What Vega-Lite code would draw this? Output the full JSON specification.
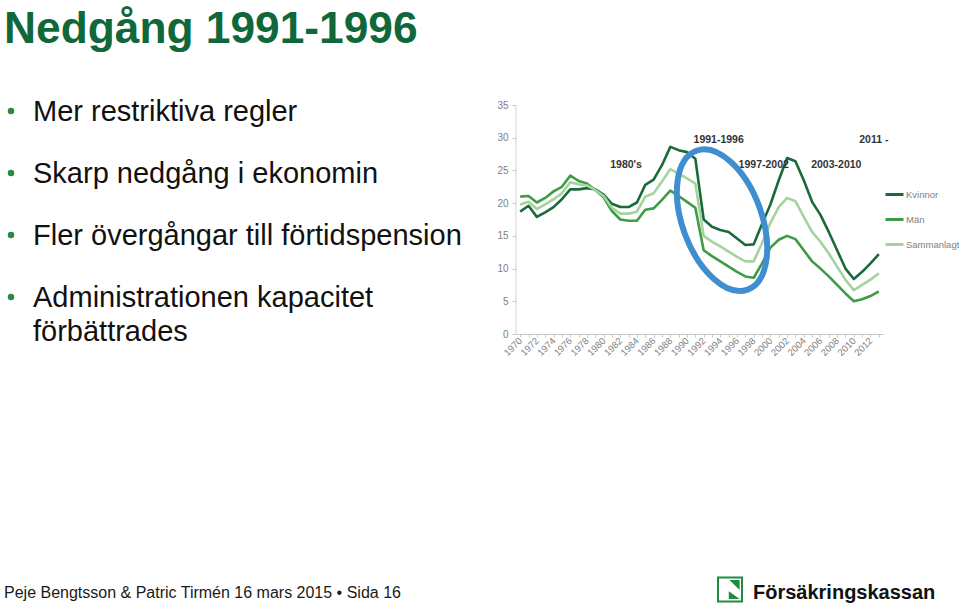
{
  "$schema": "https://vega.github.io/schema/vega-lite/v6.json",
  "background": "white",
  "padding": 0,
  "autosize": {"type": "pad"},
  "bounds": "flush",
  "spacing": 0,
  "config": {"view": {"stroke": null}, "font": "Liberation Sans", "axis": {"labelOverlap": false}, "axisX": {"labelOverlap": false}},
  "datasets": {
    "serier": [
      {"år": 1970, "serie": "Kvinnor", "värde": 18.7}, {"år": 1971, "serie": "Kvinnor", "värde": 19.6}, {"år": 1972, "serie": "Kvinnor", "värde": 17.9}, {"år": 1973, "serie": "Kvinnor", "värde": 18.6}, {"år": 1974, "serie": "Kvinnor", "värde": 19.4}, {"år": 1975, "serie": "Kvinnor", "värde": 20.6}, {"år": 1976, "serie": "Kvinnor", "värde": 22.1}, {"år": 1977, "serie": "Kvinnor", "värde": 22.1}, {"år": 1978, "serie": "Kvinnor", "värde": 22.3}, {"år": 1979, "serie": "Kvinnor", "värde": 22.1}, {"år": 1980, "serie": "Kvinnor", "värde": 21.3}, {"år": 1981, "serie": "Kvinnor", "värde": 19.9}, {"år": 1982, "serie": "Kvinnor", "värde": 19.4}, {"år": 1983, "serie": "Kvinnor", "värde": 19.4}, {"år": 1984, "serie": "Kvinnor", "värde": 20.1}, {"år": 1985, "serie": "Kvinnor", "värde": 22.8}, {"år": 1986, "serie": "Kvinnor", "värde": 23.6}, {"år": 1987, "serie": "Kvinnor", "värde": 25.8}, {"år": 1988, "serie": "Kvinnor", "värde": 28.6}, {"år": 1989, "serie": "Kvinnor", "värde": 28.1}, {"år": 1990, "serie": "Kvinnor", "värde": 27.8}, {"år": 1991, "serie": "Kvinnor", "värde": 26.8}, {"år": 1992, "serie": "Kvinnor", "värde": 17.5}, {"år": 1993, "serie": "Kvinnor", "värde": 16.4}, {"år": 1994, "serie": "Kvinnor", "värde": 15.9}, {"år": 1995, "serie": "Kvinnor", "värde": 15.6}, {"år": 1996, "serie": "Kvinnor", "värde": 14.6}, {"år": 1997, "serie": "Kvinnor", "värde": 13.6}, {"år": 1998, "serie": "Kvinnor", "värde": 13.7}, {"år": 1999, "serie": "Kvinnor", "värde": 16.8}, {"år": 2000, "serie": "Kvinnor", "värde": 19.8}, {"år": 2001, "serie": "Kvinnor", "värde": 23.5}, {"år": 2002, "serie": "Kvinnor", "värde": 26.9}, {"år": 2003, "serie": "Kvinnor", "värde": 26.4}, {"år": 2004, "serie": "Kvinnor", "värde": 23.5}, {"år": 2005, "serie": "Kvinnor", "värde": 20.2}, {"år": 2006, "serie": "Kvinnor", "värde": 18.2}, {"år": 2007, "serie": "Kvinnor", "värde": 15.6}, {"år": 2008, "serie": "Kvinnor", "värde": 12.8}, {"år": 2009, "serie": "Kvinnor", "värde": 10.0}, {"år": 2010, "serie": "Kvinnor", "värde": 8.4}, {"år": 2011, "serie": "Kvinnor", "värde": 9.5}, {"år": 2012, "serie": "Kvinnor", "värde": 10.8}, {"år": 2013, "serie": "Kvinnor", "värde": 12.2},
      {"år": 1970, "serie": "Män", "värde": 21.0}, {"år": 1971, "serie": "Män", "värde": 21.1}, {"år": 1972, "serie": "Män", "värde": 20.1}, {"år": 1973, "serie": "Män", "värde": 20.8}, {"år": 1974, "serie": "Män", "värde": 21.8}, {"år": 1975, "serie": "Män", "värde": 22.5}, {"år": 1976, "serie": "Män", "värde": 24.2}, {"år": 1977, "serie": "Män", "värde": 23.4}, {"år": 1978, "serie": "Män", "värde": 23.0}, {"år": 1979, "serie": "Män", "värde": 22.0}, {"år": 1980, "serie": "Män", "värde": 20.9}, {"år": 1981, "serie": "Män", "värde": 18.8}, {"år": 1982, "serie": "Män", "värde": 17.5}, {"år": 1983, "serie": "Män", "värde": 17.3}, {"år": 1984, "serie": "Män", "värde": 17.3}, {"år": 1985, "serie": "Män", "värde": 19.0}, {"år": 1986, "serie": "Män", "värde": 19.2}, {"år": 1987, "serie": "Män", "värde": 20.5}, {"år": 1988, "serie": "Män", "värde": 21.9}, {"år": 1989, "serie": "Män", "värde": 21.1}, {"år": 1990, "serie": "Män", "värde": 20.2}, {"år": 1991, "serie": "Män", "värde": 19.3}, {"år": 1992, "serie": "Män", "värde": 12.8}, {"år": 1993, "serie": "Män", "värde": 11.9}, {"år": 1994, "serie": "Män", "värde": 11.1}, {"år": 1995, "serie": "Män", "värde": 10.3}, {"år": 1996, "serie": "Män", "värde": 9.5}, {"år": 1997, "serie": "Män", "värde": 8.8}, {"år": 1998, "serie": "Män", "värde": 8.6}, {"år": 1999, "serie": "Män", "värde": 10.8}, {"år": 2000, "serie": "Män", "värde": 13.2}, {"år": 2001, "serie": "Män", "värde": 14.4}, {"år": 2002, "serie": "Män", "värde": 15.0}, {"år": 2003, "serie": "Män", "värde": 14.5}, {"år": 2004, "serie": "Män", "värde": 12.8}, {"år": 2005, "serie": "Män", "värde": 11.1}, {"år": 2006, "serie": "Män", "värde": 10.0}, {"år": 2007, "serie": "Män", "värde": 8.8}, {"år": 2008, "serie": "Män", "värde": 7.5}, {"år": 2009, "serie": "Män", "värde": 6.2}, {"år": 2010, "serie": "Män", "värde": 5.0}, {"år": 2011, "serie": "Män", "värde": 5.3}, {"år": 2012, "serie": "Män", "värde": 5.8}, {"år": 2013, "serie": "Män", "värde": 6.5},
      {"år": 1970, "serie": "Sammanlagt", "värde": 19.8}, {"år": 1971, "serie": "Sammanlagt", "värde": 20.2}, {"år": 1972, "serie": "Sammanlagt", "värde": 19.1}, {"år": 1973, "serie": "Sammanlagt", "värde": 19.8}, {"år": 1974, "serie": "Sammanlagt", "värde": 20.6}, {"år": 1975, "serie": "Sammanlagt", "värde": 21.5}, {"år": 1976, "serie": "Sammanlagt", "värde": 23.2}, {"år": 1977, "serie": "Sammanlagt", "värde": 22.9}, {"år": 1978, "serie": "Sammanlagt", "värde": 22.7}, {"år": 1979, "serie": "Sammanlagt", "värde": 22.0}, {"år": 1980, "serie": "Sammanlagt", "värde": 21.1}, {"år": 1981, "serie": "Sammanlagt", "värde": 19.3}, {"år": 1982, "serie": "Sammanlagt", "värde": 18.4}, {"år": 1983, "serie": "Sammanlagt", "värde": 18.4}, {"år": 1984, "serie": "Sammanlagt", "värde": 18.7}, {"år": 1985, "serie": "Sammanlagt", "värde": 21.0}, {"år": 1986, "serie": "Sammanlagt", "värde": 21.5}, {"år": 1987, "serie": "Sammanlagt", "värde": 23.3}, {"år": 1988, "serie": "Sammanlagt", "värde": 25.2}, {"år": 1989, "serie": "Sammanlagt", "värde": 24.5}, {"år": 1990, "serie": "Sammanlagt", "värde": 23.8}, {"år": 1991, "serie": "Sammanlagt", "värde": 23.0}, {"år": 1992, "serie": "Sammanlagt", "värde": 15.0}, {"år": 1993, "serie": "Sammanlagt", "värde": 14.1}, {"år": 1994, "serie": "Sammanlagt", "värde": 13.4}, {"år": 1995, "serie": "Sammanlagt", "värde": 12.6}, {"år": 1996, "serie": "Sammanlagt", "värde": 11.8}, {"år": 1997, "serie": "Sammanlagt", "värde": 11.1}, {"år": 1998, "serie": "Sammanlagt", "värde": 11.1}, {"år": 1999, "serie": "Sammanlagt", "värde": 13.9}, {"år": 2000, "serie": "Sammanlagt", "värde": 17.0}, {"år": 2001, "serie": "Sammanlagt", "värde": 19.4}, {"år": 2002, "serie": "Sammanlagt", "värde": 20.8}, {"år": 2003, "serie": "Sammanlagt", "värde": 20.3}, {"år": 2004, "serie": "Sammanlagt", "värde": 17.9}, {"år": 2005, "serie": "Sammanlagt", "värde": 15.6}, {"år": 2006, "serie": "Sammanlagt", "värde": 14.1}, {"år": 2007, "serie": "Sammanlagt", "värde": 12.3}, {"år": 2008, "serie": "Sammanlagt", "värde": 10.3}, {"år": 2009, "serie": "Sammanlagt", "värde": 8.3}, {"år": 2010, "serie": "Sammanlagt", "värde": 6.7}, {"år": 2011, "serie": "Sammanlagt", "värde": 7.5}, {"år": 2012, "serie": "Sammanlagt", "värde": 8.3}, {"år": 2013, "serie": "Sammanlagt", "värde": 9.3}
    ],
    "punkter": [
      {"punkt": "1", "text": "Mer restriktiva regler"},
      {"punkt": "2", "text": "Skarp nedgång i ekonomin"},
      {"punkt": "3", "text": "Fler övergångar till förtidspension"},
      {"punkt": "4", "text": "Administrationen kapacitet\nförbättrades"}
    ],
    "perioder": [
      {"år": 1982.7, "värde": 25.8, "etikett": "1980's"},
      {"år": 1993.8, "värde": 29.65, "etikett": "1991-1996"},
      {"år": 1999.2, "värde": 25.8, "etikett": "1997-2002"},
      {"år": 2007.9, "värde": 25.8, "etikett": "2003-2010"},
      {"år": 2012.4, "värde": 29.65, "etikett": "2011 -"}
    ]
  },
  "hconcat": [
    {
      "width": 516,
      "height": 607,
      "layer": [
        {
          "data": {"values": [{"rubrik": "Nedgång 1991-1996"}]},
          "mark": {"type": "text", "align": "left", "baseline": "alphabetic", "fontSize": 44.3, "fontWeight": "bold", "font": "Liberation Sans", "color": "#10683a"},
          "encoding": {"text": {"field": "rubrik"}, "x": {"value": 4}, "y": {"value": 43}}
        },
        {
          "data": {"name": "punkter"},
          "mark": {"type": "text", "align": "left", "baseline": "alphabetic", "fontSize": 29, "font": "Liberation Sans", "color": "#111111", "lineBreak": "\n", "lineHeight": 34},
          "encoding": {
            "text": {"field": "text"},
            "x": {"value": 33},
            "y": {"field": "punkt", "type": "ordinal", "scale": {"type": "point", "range": [121, 307], "padding": 0}, "axis": null}
          }
        },
        {
          "data": {"name": "punkter"},
          "mark": {"type": "point", "filled": true, "size": 42, "color": "#2b8a3e", "opacity": 1},
          "encoding": {
            "x": {"value": 11},
            "y": {"field": "punkt", "type": "ordinal", "scale": {"type": "point", "range": [121, 307], "padding": 0}, "axis": null},
            "yOffset": {"value": -10}
          }
        },
        {
          "data": {"values": [{"t": "Peje Bengtsson & Patric Tirmén 16 mars 2015 • Sida 16"}]},
          "mark": {"type": "text", "align": "left", "baseline": "middle", "fontSize": 16, "font": "Liberation Sans", "color": "#1a1a1a"},
          "encoding": {"text": {"field": "t"}, "x": {"value": 4}, "y": {"value": 593}}
        },
        {
          "data": {"values": [{"t": "Försäkringskassan"}]},
          "mark": {"type": "text", "align": "left", "baseline": "middle", "fontSize": 20, "fontWeight": "bold", "font": "Liberation Sans", "color": "#111111"},
          "encoding": {"text": {"field": "t"}, "x": {"value": 753}, "y": {"value": 593}}
        },
        {
          "data": {"values": [{"a": 1}]},
          "mark": {"type": "point", "shape": "square", "size": 576, "filled": false, "stroke": "#1f8b3f", "strokeWidth": 2, "fill": "white", "opacity": 1},
          "encoding": {"x": {"value": 730}, "y": {"value": 589.5}}
        },
        {
          "data": {"values": [{"a": 1}]},
          "mark": {"type": "point", "shape": "M-0.05,-0.8 L0.8,-0.8 L0.8,0.05 Z M-0.1,0.15 L0.8,0.8 L-0.1,0.8 Z", "size": 576, "filled": true, "color": "#1f8b3f", "opacity": 1},
          "encoding": {"x": {"value": 730}, "y": {"value": 589.5}}
        }
      ]
    },
    {
      "width": 367,
      "height": 334,
      "layer": [
        {
          "data": {"values": [{"a": 1}]},
          "mark": {"type": "rule", "color": "#d4d4d4", "strokeWidth": 1},
          "encoding": {
            "x": {"datum": 1969.5, "type": "quantitative"},
            "y": {"datum": 0, "type": "quantitative"},
            "y2": {"datum": 35}
          }
        },
        {
          "data": {"name": "serier"},
          "mark": {"type": "line", "strokeWidth": 2.6, "strokeJoin": "round"},
          "encoding": {
            "x": {
              "field": "år", "type": "quantitative",
              "scale": {"domain": [1969.5, 2013.5], "nice": false, "zero": false},
              "axis": {
                "title": null, "tickCount": 60, "values": [1970,1971,1972,1973,1974,1975,1976,1977,1978,1979,1980,1981,1982,1983,1984,1985,1986,1987,1988,1989,1990,1991,1992,1993,1994,1995,1996,1997,1998,1999,2000,2001,2002,2003,2004,2005,2006,2007,2008,2009,2010,2011,2012,2013],
                "labelExpr": "datum.value % 2 == 0 ? '' + datum.value : ''",
                "labelOverlap": false, "labelAngle": -45, "labelAlign": "right", "labelBaseline": "middle",
                "labelFontSize": 9.5, "labelColor": "#7f7f7f", "labelFont": "Liberation Sans", "labelPadding": 2,
                "domainColor": "#c8c8c8", "tickColor": "#c8c8c8", "tickSize": 3, "grid": false
              }
            },
            "y": {
              "field": "värde", "type": "quantitative",
              "scale": {"domain": [0, 51.05], "nice": false},
              "axis": {
                "title": null, "tickCount": 20, "values": [0, 5, 10, 15, 20, 25, 30, 35], "domain": false, "grid": false,
                "tickColor": "#c8c8c8", "tickSize": 4, "labelFontSize": 10, "labelColor": "#7f7f7f", "labelFont": "Liberation Sans", "labelPadding": 4
              }
            },
            "color": {
              "field": "serie", "type": "nominal",
              "scale": {"domain": ["Kvinnor", "Män", "Sammanlagt"], "range": ["#1b6a3b", "#3f9b45", "#a4d49d"]},
              "legend": {
                "title": null, "orient": "none", "legendX": 884, "legendY": 184, "direction": "vertical",
                "symbolType": "stroke", "symbolSize": 324, "symbolStrokeWidth": 3,
                "labelFontSize": 9.5, "labelColor": "#7f7f7f", "labelFont": "Liberation Sans", "labelOffset": 1, "rowPadding": 8, "padding": 0
              }
            }
          }
        },
        {
          "data": {"name": "perioder"},
          "mark": {"type": "text", "fontSize": 10.5, "fontWeight": "bold", "font": "Liberation Sans", "color": "#333333", "baseline": "middle"},
          "encoding": {
            "x": {"field": "år", "type": "quantitative"},
            "y": {"field": "värde", "type": "quantitative"},
            "text": {"field": "etikett"}
          }
        },
        {
          "data": {"values": [{"a": 1}]},
          "mark": {
            "type": "point",
            "shape": "M0.347,0.938 C0.070,1.041 -0.310,0.704 -0.502,0.186 C-0.693,-0.333 -0.624,-0.836 -0.347,-0.938 C-0.070,-1.041 0.310,-0.704 0.502,-0.186 C0.693,0.333 0.624,0.836 0.347,0.938 Z",
            "size": 21904, "filled": false, "stroke": "#3f8fd0", "strokeWidth": 6, "opacity": 1
          },
          "encoding": {
            "x": {"datum": 1994.2, "type": "quantitative"},
            "y": {"datum": 17.4, "type": "quantitative"}
          }
        }
      ]
    }
  ]
}
